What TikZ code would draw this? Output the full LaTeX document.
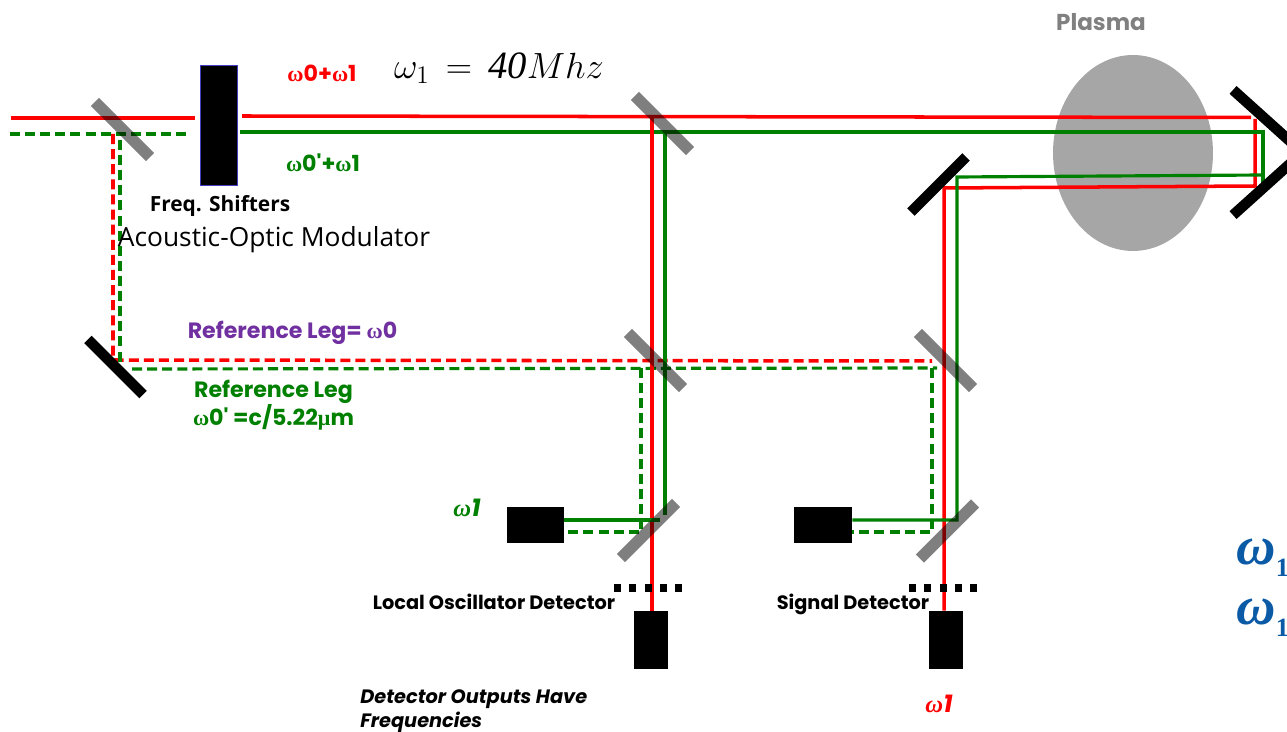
\documentclass[tikz,border=0pt]{standalone}
\usepackage{amsmath,amssymb}
\usepackage{fontspec}
\setmainfont{Open Sans}
\newfontfamily\gothicfont{Poppins}
\newfontfamily\greekfont{Liberation Serif}
\usepackage{xcolor}
\usepackage{tikz}
\usetikzlibrary{shapes.geometric,positioning,calc}
\definecolor{beamgreen}{RGB}{0,128,0}
\definecolor{beamred}{RGB}{255,0,0}
\definecolor{legpurple}{RGB}{112,48,160}
\definecolor{omegablue}{RGB}{11,90,165}
\newcommand{\wsym}{{\greekfont\bfseries ω}}
\newcommand{\wsymit}{{\greekfont\bfseries\itshape ω}}
\newcommand{\musym}{{\greekfont\bfseries μ}}
\newcommand{\blueomega}{{\greekfont\bfseries\itshape ω\raisebox{-0.22em}{\fontsize{15}{17}\selectfont\upshape 1}}}

\begin{document}
\begin{tikzpicture}[
    x=0.02cm, y=-0.02cm,
    redbeam/.style={draw=beamred, line width=2pt},
    greenbeam/.style={draw=beamgreen, line width=1.8pt},
    reddash/.style={redbeam, dash pattern=on 5.7pt off 2.9pt},
    greendash/.style={greenbeam, dash pattern=on 5.7pt off 2.9pt},
    splitter/.style={rectangle, fill=black, opacity=.5, inner sep=0pt,
                     minimum width=1.56cm, minimum height=0.23cm},
    mirror/.style={rectangle, fill=black, inner sep=0pt,
                   minimum width=1.56cm, minimum height=0.21cm},
    detector/.style={rectangle, fill=black, inner sep=0pt},
    pinhole/.style={draw=black, line width=4pt, dash pattern=on 4pt off 4.7pt},
    gothic/.style={inner sep=0pt, font=\gothicfont\bfseries\fontsize{11}{13}\selectfont},
    gothicbig/.style={inner sep=0pt, font=\gothicfont\bfseries\fontsize{12.6}{15}\selectfont},
    gothicit/.style={inner sep=0pt, font=\gothicfont\bfseries\itshape\fontsize{11}{13}\selectfont},
    gothicone/.style={inner sep=0pt, font=\gothicfont\bfseries\itshape\fontsize{14}{16}\selectfont},
    blueone/.style={inner sep=0pt, anchor=west, text=omegablue, font=\fontsize{31}{33}\selectfont}
]
\path[use as bounding box, clip] (0,0) rectangle (1287,732);

%% PLASMA
\node[ellipse, fill=black!35, inner sep=0pt, minimum width=3.2cm, minimum height=3.92cm]
    (plasma) at (1133,153) {};
\node[gothic, text=black!50, font=\gothicfont\bfseries\fontsize{13.1}{15}\selectfont]
    (plasmalabel) at (1101,22) {Plasma};

%% DETECTORS
\node[detector, minimum width=1.14cm, minimum height=0.72cm] (losidedet) at (535.5,525) {};
\node[detector, minimum width=1.16cm, minimum height=0.72cm] (sigsidedet) at (823,525) {};
\node[detector, minimum width=0.68cm, minimum height=1.16cm] (lodet) at (651,640) {};
\node[detector, minimum width=0.68cm, minimum height=1.16cm] (sigdet) at (946,640) {};

%% MODULATOR
\node[detector, draw=blue!50!gray, line width=0.4pt, minimum width=0.74cm, minimum height=2.4cm]
    (aom) at (218.5,125) {};

%% BEAM CORNERS
\coordinate (redin) at (11,118);
\coordinate (redinend) at (195,118);
\coordinate (greenin) at (10,134);
\coordinate (greeninend) at (190,134);
\coordinate (redtop) at (242,116);
\coordinate (redtopend) at (1251,117.5);
\coordinate (greentop) at (240,132);
\coordinate (greencorner) at (1263,132);
\coordinate (redfold) at (1255,119);
\coordinate (redfoldlow) at (1255,186);
\coordinate (redback) at (944,188);
\coordinate (greenfold) at (1263,186);
\coordinate (greenbackstart) at (1263,175);
\coordinate (greenback) at (957,177);
\coordinate (greensig) at (957,520);
\coordinate (reftopred) at (113,134);
\coordinate (refred) at (113,360);
\coordinate (refredend) at (932,361);
\coordinate (reftopgreen) at (120,140);
\coordinate (refgreen) at (120,365);
\coordinate (refgreenstart) at (132,369);
\coordinate (refgreenend) at (937,368);
\coordinate (redsplit) at (652,117);
\coordinate (greensplit) at (665,132);
\coordinate (greensplitend) at (665,515);
\coordinate (loturn) at (660,520);
\coordinate (lorefdrop) at (641,368);
\coordinate (lorefturn) at (641,532);
\coordinate (sigrefdrop) at (932,368);
\coordinate (sigrefturn) at (932,532);

%% INPUT BEAMS
\draw[redbeam] (redin) -- (redinend);
\draw[greendash] (greenin) -- (greeninend);

%% PROBE BEAMS
\draw[redbeam] (redtop) -- (redtopend);
\draw[redbeam] (redfold) -- (redfoldlow) -- (redback) -- (redback |- sigdet.north);
\draw[greenbeam] (greentop) -- (greencorner) -- (greenfold);
\draw[greenbeam] (greenbackstart) -- (greenback) -- (greensig) -- (sigsidedet.east |- greensig);

%% REFERENCE BEAMS
\draw[reddash] (reftopred) -- (refred) -- (refredend);
\draw[greendash] (reftopgreen) -- (refgreen);
\draw[greendash] (refgreenstart) -- (refgreenend);

%% LOCAL OSCILLATOR BEAMS
\draw[redbeam] (redsplit) -- (redsplit |- lodet.north);
\draw[greenbeam] (greensplit) -- (greensplitend);
\draw[greenbeam] (loturn) -- (losidedet.east |- loturn);
\draw[greendash] (lorefdrop) -- (lorefturn) -- (losidedet.east |- lorefturn);
\draw[greendash] (sigrefdrop) -- (sigrefturn) -- (sigsidedet.east |- sigrefturn);

%% SPLITTERS AND MIRRORS
\node[splitter, rotate=-45] (inputsplit) at (122.5,129.5) {};
\node[splitter, rotate=-45] (topsplit) at (662.5,123.5) {};
\node[splitter, rotate=-45] (midsplit) at (655.5,360.5) {};
\node[splitter, rotate=-45] (sigsplit) at (945.5,360.5) {};
\node[splitter, rotate=45] (lowsplit) at (648.5,530.5) {};
\node[splitter, rotate=45] (sigmix) at (947.5,531) {};
\node[mirror, rotate=-45] (refmirror) at (115.5,367) {};
\node[mirror, rotate=45] (foldmirror) at (938.5,184.5) {};
\node[mirror, rotate=-42] (retrotop) at (1262,116) {};
\node[mirror, rotate=42] (retrolow) at (1262,189) {};

%% PINHOLES
\coordinate (lopinleft) at (614,588);
\coordinate (lopinright) at (684,588);
\coordinate (sigpinleft) at (909,588);
\coordinate (sigpinright) at (979,588);
\draw[pinhole] (lopinleft) -- (lopinright);
\draw[pinhole] (sigpinleft) -- (sigpinright);

%% LABELS
\node[gothicbig, text=beamred] (redfreq) at (322,73) {\wsym0+\wsym1};
\node[gothicbig, text=beamgreen] (greenfreq) at (323,163) {\wsym0'+\wsym1};
\node[inner sep=0pt, font=\fontsize{22}{24}\selectfont] (shiftfreq) at (499,68)
    {$\omega_1\,=\,\text{\greekfont\itshape 40}Mhz$};
\node[inner sep=0pt, font=\bfseries\fontsize{11.9}{14}\selectfont] (shifters) at (220,206) {Freq. Shifters};
\node[inner sep=0pt, font=\fontsize{15}{17}\selectfont] (aomlabel) at (274,240) {Acoustic-Optic Modulator};
\node[gothicbig, text=legpurple] (legpurplelabel) at (292.5,333) {Reference Leg= \wsym0};
\node[gothicbig, text=beamgreen] (leggreen) at (273.5,392) {Reference Leg};
\node[gothicbig, text=beamgreen] (leggreenfreq) at (273.5,417) {\wsym0' =c/5.22\musym m};
\node[gothicone, text=beamgreen] (greenone) at (467,508) {\wsymit1};
\node[gothic] (lolabel) at (494,602) {Local Oscillator Detector};
\node[gothic] (siglabel) at (853,604) {Signal Detector};
\node[gothicit, anchor=west] (outputs) at (360,699) {Detector Outputs Have};
\node[gothicit, anchor=west] (outputsfreq) at (360,722) {Frequencies};
\node[gothicone, text=beamred] (redone) at (939,704) {\wsymit1};
\node[blueone] (blueupper) at (1236,558) {\blueomega};
\node[blueone] (bluelower) at (1236,618) {\blueomega};

\end{tikzpicture}
\end{document}
